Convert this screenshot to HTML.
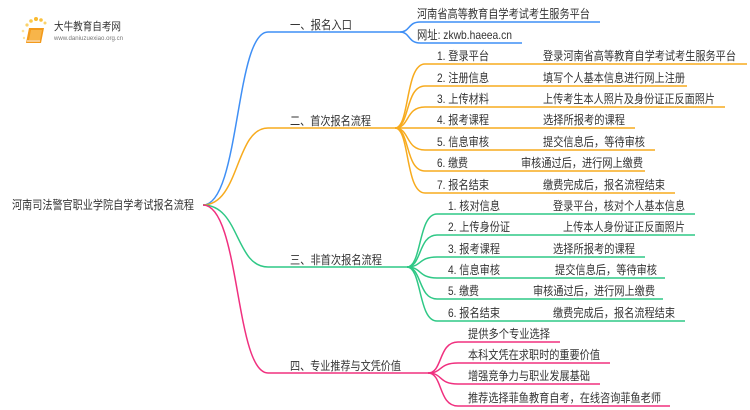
<!DOCTYPE html>
<html><head><meta charset="utf-8"><style>
html,body{margin:0;padding:0;background:#fff;width:750px;height:410px;overflow:hidden}
svg{display:block}
text{font-family:"Liberation Sans","Noto Sans CJK SC",sans-serif;fill:#333;font-size:12px}
</style></head><body>
<svg width="750" height="410" viewBox="0 0 750 410" xmlns="http://www.w3.org/2000/svg">
<g>
<circle cx="27" cy="25" r="1.6" fill="#fbd36b"/><circle cx="31" cy="21" r="1.8" fill="#fbc94a"/><circle cx="36" cy="19" r="2" fill="#f9b92e"/><circle cx="41" cy="20" r="1.8" fill="#f9c13f"/><circle cx="45" cy="23" r="1.5" fill="#fbd36b"/><circle cx="23" cy="31" r="1.3" fill="#fde39b"/><circle cx="24" cy="38" r="1.2" fill="#fde39b"/>
<path d="M29 28 L44 28 L41 43 L26 43 Z" fill="#f39a1b"/>
<path d="M31 30 L42 30 L40 40 L29 40 Z" fill="#f7b54a"/>
<path d="M27 41 L40 41" stroke="#fff" stroke-width="1"/>
<text x="54" y="30" font-size="11" textLength="67" lengthAdjust="spacingAndGlyphs" style="fill:#333;font-size:11px">大牛教育自考网</text>
<text x="54" y="40" textLength="69" lengthAdjust="spacingAndGlyphs" style="fill:#777;font-size:6px">www.daniuzuexiao.org.cn</text>
</g>
<g fill="none" stroke-width="1.5">
<path d="M203 205 C240 205,235 32,268 32 L400 32" stroke="#3f8ff5"/>
<path d="M203 205 C240 205,235 128,268 128 L400 128" stroke="#f7ab1e"/>
<path d="M203 205 C240 205,235 267,268 267 L407 267" stroke="#2fc886"/>
<path d="M203 205 C240 205,235 373,268 373 L428 373" stroke="#f0307f"/>
<g stroke="#3f8ff5">
<path d="M400 32 C410 32,408 22,420 22 L600 22"/>
<path d="M400 32 C410 32,408 43,420 43 L522 43"/>
</g>
<g stroke="#f7ab1e">
<path d="M395 128 C410 128,405 64,425 64 L747 64"/>
<path d="M395 128 C410 128,405 86,425 86 L687 86"/>
<path d="M395 128 C410 128,405 107,425 107 L725 107"/>
<path d="M395 128 L635 128"/>
<path d="M395 128 C410 128,405 150,425 150 L655 150"/>
<path d="M395 128 C410 128,405 171,425 171 L645 171"/>
<path d="M395 128 C410 128,405 193,425 193 L675 193"/>
</g>
<g stroke="#2fc886">
<path d="M407 267 C422 267,418 214,437 214 L695 214"/>
<path d="M407 267 C422 267,418 235,437 235 L695 235"/>
<path d="M407 267 C422 267,418 257,437 257 L645 257"/>
<path d="M407 267 C422 267,418 278,437 278 L665 278"/>
<path d="M407 267 C422 267,418 299,437 299 L663 299"/>
<path d="M407 267 C422 267,418 321,437 321 L685 321"/>
</g>
<g stroke="#f0307f">
<path d="M428 373 C443 373,438 342,458 342 L560 342"/>
<path d="M428 373 C443 373,438 363,458 363 L610 363"/>
<path d="M428 373 C443 373,438 384,458 384 L600 384"/>
<path d="M428 373 C443 373,438 406,458 406 L670 406"/>
</g>
</g>
<text x="12" y="209" textLength="182" lengthAdjust="spacingAndGlyphs">河南司法警官职业学院自学考试报名流程</text>
<text x="290" y="29" textLength="62" lengthAdjust="spacingAndGlyphs">一、报名入口</text>
<text x="290" y="125" textLength="81" lengthAdjust="spacingAndGlyphs">二、首次报名流程</text>
<text x="290" y="264" textLength="92" lengthAdjust="spacingAndGlyphs">三、非首次报名流程</text>
<text x="290" y="370" textLength="111" lengthAdjust="spacingAndGlyphs">四、专业推荐与文凭价值</text>

<text x="417" y="18" textLength="173" lengthAdjust="spacingAndGlyphs">河南省高等教育自学考试考生服务平台</text>
<text x="417" y="39" textLength="95" lengthAdjust="spacingAndGlyphs">网址: zkwb.haeea.cn</text>

<text x="437" y="60" textLength="52" lengthAdjust="spacingAndGlyphs">1. 登录平台</text><text x="543" y="60" textLength="193" lengthAdjust="spacingAndGlyphs">登录河南省高等教育自学考试考生服务平台</text>
<text x="437" y="82" textLength="52" lengthAdjust="spacingAndGlyphs">2. 注册信息</text><text x="543" y="82" textLength="142" lengthAdjust="spacingAndGlyphs">填写个人基本信息进行网上注册</text>
<text x="437" y="103" textLength="52" lengthAdjust="spacingAndGlyphs">3. 上传材料</text><text x="543" y="103" textLength="172" lengthAdjust="spacingAndGlyphs">上传考生本人照片及身份证正反面照片</text>
<text x="437" y="124" textLength="52" lengthAdjust="spacingAndGlyphs">4. 报考课程</text><text x="543" y="124" textLength="82" lengthAdjust="spacingAndGlyphs">选择所报考的课程</text>
<text x="437" y="146" textLength="52" lengthAdjust="spacingAndGlyphs">5. 信息审核</text><text x="543" y="146" textLength="102" lengthAdjust="spacingAndGlyphs">提交信息后，等待审核</text>
<text x="437" y="167" textLength="31" lengthAdjust="spacingAndGlyphs">6. 缴费</text><text x="521" y="167" textLength="122" lengthAdjust="spacingAndGlyphs">审核通过后，进行网上缴费</text>
<text x="437" y="189" textLength="52" lengthAdjust="spacingAndGlyphs">7. 报名结束</text><text x="543" y="189" textLength="122" lengthAdjust="spacingAndGlyphs">缴费完成后，报名流程结束</text>

<text x="448" y="210" textLength="52" lengthAdjust="spacingAndGlyphs">1. 核对信息</text><text x="553" y="210" textLength="132" lengthAdjust="spacingAndGlyphs">登录平台，核对个人基本信息</text>
<text x="448" y="231" textLength="62" lengthAdjust="spacingAndGlyphs">2. 上传身份证</text><text x="563" y="231" textLength="122" lengthAdjust="spacingAndGlyphs">上传本人身份证正反面照片</text>
<text x="448" y="253" textLength="52" lengthAdjust="spacingAndGlyphs">3. 报考课程</text><text x="553" y="253" textLength="82" lengthAdjust="spacingAndGlyphs">选择所报考的课程</text>
<text x="448" y="274" textLength="52" lengthAdjust="spacingAndGlyphs">4. 信息审核</text><text x="555" y="274" textLength="102" lengthAdjust="spacingAndGlyphs">提交信息后，等待审核</text>
<text x="448" y="295" textLength="31" lengthAdjust="spacingAndGlyphs">5. 缴费</text><text x="533" y="295" textLength="122" lengthAdjust="spacingAndGlyphs">审核通过后，进行网上缴费</text>
<text x="448" y="317" textLength="52" lengthAdjust="spacingAndGlyphs">6. 报名结束</text><text x="553" y="317" textLength="122" lengthAdjust="spacingAndGlyphs">缴费完成后，报名流程结束</text>

<text x="468" y="338" textLength="82" lengthAdjust="spacingAndGlyphs">提供多个专业选择</text>
<text x="468" y="359" textLength="132" lengthAdjust="spacingAndGlyphs">本科文凭在求职时的重要价值</text>
<text x="468" y="380" textLength="122" lengthAdjust="spacingAndGlyphs">增强竞争力与职业发展基础</text>
<text x="468" y="402" textLength="193" lengthAdjust="spacingAndGlyphs">推荐选择菲鱼教育自考，在线咨询菲鱼老师</text>
</svg>
</body></html>
